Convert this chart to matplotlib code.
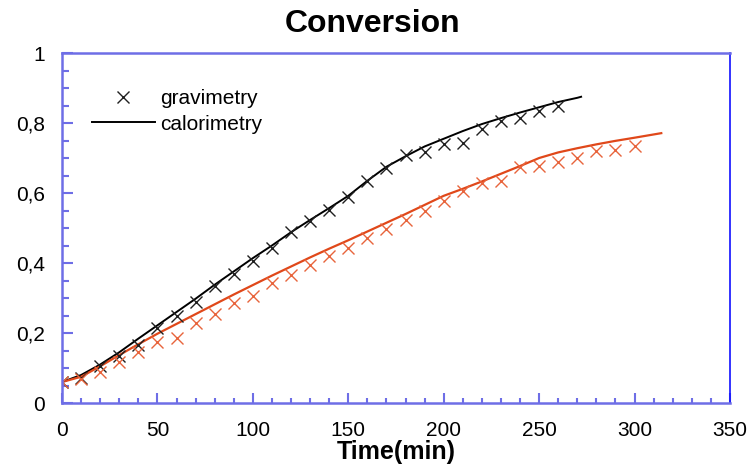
import matplotlib.pyplot as plt
from matplotlib.ticker import MultipleLocator, FuncFormatter

plt.rcParams['font.family'] = ['Liberation Sans', 'DejaVu Sans']

# calorimetry curves (min, conversion)
cal_t1 = [0, 10, 20, 30, 40, 50, 60, 70, 80, 90, 100, 110, 120, 130, 140, 150, 160,
          170, 180, 190, 200, 210, 220, 230, 240, 250, 260, 270, 272]
cal_x1 = [0.06, 0.08, 0.11, 0.145, 0.184, 0.222, 0.26, 0.298, 0.338, 0.376, 0.414,
          0.45, 0.488, 0.523, 0.557, 0.592, 0.635, 0.675, 0.705, 0.733, 0.755, 0.777,
          0.797, 0.814, 0.83, 0.845, 0.86, 0.872, 0.875]
cal_t2 = [0, 10, 20, 30, 40, 50, 60, 70, 80, 90, 100, 110, 120, 130, 140, 150, 160,
          170, 180, 190, 200, 210, 220, 230, 240, 250, 260, 270, 280, 290, 300, 314]
cal_x2 = [0.06, 0.075, 0.105, 0.137, 0.168, 0.198, 0.226, 0.254, 0.282, 0.31, 0.337,
          0.364, 0.39, 0.416, 0.441, 0.465, 0.49, 0.515, 0.54, 0.566, 0.592, 0.612,
          0.633, 0.655, 0.677, 0.70, 0.716, 0.728, 0.739, 0.749, 0.758, 0.771]

# gravimetry points
grav_t1 = list(range(0, 270, 10))
grav_x1 = [0.06, 0.072, 0.106, 0.135, 0.165, 0.213, 0.25, 0.29, 0.335, 0.369, 0.407,
           0.443, 0.488, 0.521, 0.552, 0.588, 0.634, 0.672, 0.71, 0.717, 0.74, 0.743,
           0.783, 0.805, 0.814, 0.834, 0.849]
grav_t2 = list(range(0, 310, 10))
grav_x2 = [0.06, 0.069, 0.089, 0.117, 0.146, 0.174, 0.186, 0.229, 0.255, 0.285, 0.306,
           0.343, 0.366, 0.394, 0.42, 0.443, 0.472, 0.496, 0.523, 0.548, 0.577, 0.606,
           0.628, 0.634, 0.674, 0.677, 0.688, 0.70, 0.72, 0.723, 0.734]

red = '#e0481a'
red_x = '#e8643c'
spine_c = '#6e6ee6'

fig = plt.figure(figsize=(7.49, 4.65), dpi=100)
ax = fig.add_axes([0.0828, 0.1333, 0.8918, 0.7527])

ax.plot(cal_t1, cal_x1, color='black', lw=1.4, label='calorimetry')
ax.plot(cal_t2, cal_x2, color=red, lw=1.6)
ax.plot(grav_t1, grav_x1, 'x', color='#202020', ms=9, mew=1.0, label='gravimetry')
ax.plot(grav_t2, grav_x2, 'x', color=red_x, ms=9, mew=1.0)

ax.set_xlim(0, 350)
ax.set_ylim(0, 1)
ax.xaxis.set_major_locator(MultipleLocator(50))
ax.xaxis.set_minor_locator(MultipleLocator(10))
ax.yaxis.set_major_locator(MultipleLocator(0.2))
ax.yaxis.set_minor_locator(MultipleLocator(0.05))
ax.yaxis.set_major_formatter(FuncFormatter(lambda v, p: ('%g' % round(v, 2)).replace('.', ',')))

for s in ['left', 'bottom', 'top']:
    ax.spines[s].set_color(spine_c)
    ax.spines[s].set_linewidth(1.8)
ax.spines['right'].set_color('#1010ff')
ax.spines['right'].set_linewidth(1.2)

ax.tick_params(which='both', direction='in', color=spine_c, width=1.5,
               labelsize=15, top=False, right=False)
ax.tick_params(axis='y', which='major', length=8, pad=12)
ax.tick_params(axis='y', which='minor', length=5)
ax.tick_params(axis='x', which='major', length=7.5, pad=13)
ax.tick_params(axis='x', which='minor', length=3.8)

ax.set_xlabel('Time(min)', fontsize=18, fontweight='bold', labelpad=0.3)
fig.text(0.497, 0.948, 'Conversion', fontsize=23, fontweight='bold',
         ha='center', va='center')

h, l = ax.get_legend_handles_labels()
ax.legend([h[1], h[0]], [l[1], l[0]], loc='upper left', bbox_to_anchor=(0.045, 0.896),
          frameon=False, fontsize=15, handlelength=3.0, handletextpad=0.25,
          labelspacing=0.3, borderpad=0, borderaxespad=0, numpoints=1)

fig.savefig('out.png', dpi=100)
